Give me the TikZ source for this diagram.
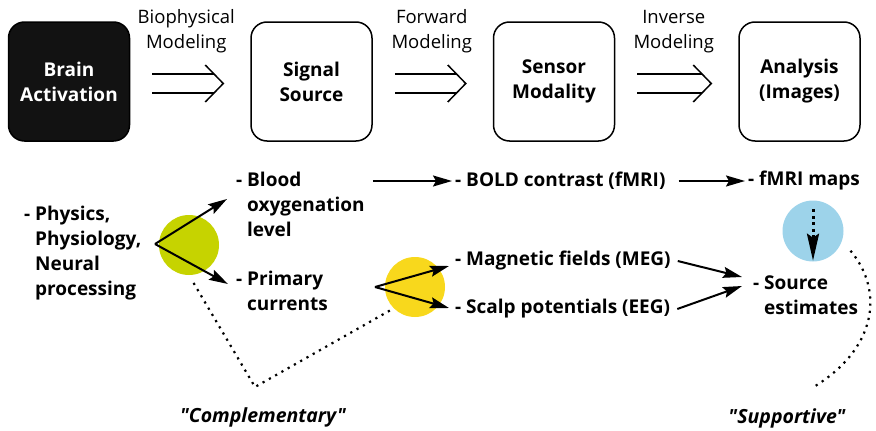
\documentclass[tikz,border=0pt]{standalone}
\usepackage{fontspec}
\setmainfont{Open Sans}
\newfontfamily\notefont{Open Sans}
\usetikzlibrary{positioning, arrows.meta, calc}

\definecolor{dotgreen}{HTML}{C6D300}
\definecolor{dotyellow}{HTML}{F8D81C}
\definecolor{dotblue}{HTML}{9DD3EA}

\begin{document}
\begin{tikzpicture}[x=1pt, y=-1pt, node distance=120pt,
    stage/.style={draw, line width=1.5pt, rounded corners=16pt, minimum width=121pt, minimum height=119pt, align=center, font=\fontsize{19}{25}\selectfont\bfseries},
    modlabel/.style={align=center, inner sep=0pt, font=\fontsize{18.5}{25}\selectfont},
    dbl/.style={double, double distance=17.6pt, line width=1.5pt, shorten <=22pt, shorten >=36pt},
    chev/.style={line width=1.5pt},
    item/.style={anchor=west, align=left, inner sep=0pt, font=\fontsize{19}{25}\selectfont\bfseries},
    arr/.style={line width=2pt, -{Stealth[length=19pt,width=11pt,inset=3pt]}},
    dotline/.style={line width=2.2pt, dash pattern=on 2.2pt off 5pt},
    dot/.style={circle, minimum size=60pt, inner sep=0pt},
    note/.style={inner sep=0pt, font=\notefont\fontsize{19.5}{22}\selectfont\bfseries\itshape}]
  \useasboundingbox (0,0) rectangle (876,431);

  % stages
  \node[stage, fill=black!93, text=white] (brain) at (69,81.5) {Brain\\Activation};
  \node[stage, right=of brain] (signal) {Signal\\Source};
  \node[stage, right=of signal] (sensor) {Sensor\\Modality};
  \node[stage, right=of sensor, xshift=3pt] (analysis) {Analysis\\(Images)};

  \node[modlabel] (biolab) at ($(brain.east)!.5!(signal.west)+(-4,-50)$) {Biophysical\\Modeling};
  \node[modlabel] (fwdlab) at ($(signal.east)!.5!(sensor.west)+(-1,-50)$) {Forward\\Modeling};
  \node[modlabel] (invlab) at ($(sensor.east)!.5!(analysis.west)+(-3,-50)$) {Inverse\\Modeling};

  \foreach \from/\to in {brain/signal, signal/sensor, sensor/analysis} {
    \draw[dbl] ([yshift=-2pt]\from.east) -- ([yshift=-2pt]\to.west);
    \draw[chev] ([xshift=-45pt,yshift=16.5pt]\to.west) -- ([xshift=-27pt,yshift=-2pt]\to.west) -- ([xshift=-45pt,yshift=-20.5pt]\to.west);
  }

  % coloured dots
  \node[dot, fill=dotgreen] (physdot) at (189,245) {};
  \node[dot, fill=dotyellow] (currdot) at (415,287) {};
  \node[dot, fill=dotblue, minimum size=61pt] (mapdot) at (813,231) {};

  % items
  \node[item] (physics) at (35,253) {\llap{- }Physics,\\Physiology,\\Neural\\processing};
  \node[item] (blood) at (247,204) {\llap{- }Blood\\oxygenation\\level};
  \node[item] (primary) at (247,291) {\llap{- }Primary\\currents};
  \node[item] (bold) at (455,181) {- BOLD contrast (fMRI)};
  \node[item] (maps) at (748,181) {- fMRI maps};
  \node[item] (meg) at (455,261) {- Magnetic fields (MEG)};
  \node[item] (eeg) at (455,309) {- Scalp potentials (EEG)};
  \node[item] (source) at (764,295) {\llap{- }Source\\estimates};

  \coordinate (gsplit) at (155,244);
  \coordinate (bloodin) at (227,199);
  \coordinate (primin) at (228,284);
  \coordinate (ysplit) at (375,287);
  \coordinate (megin) at (449,266);
  \coordinate (eegin) at (449,308);
  \coordinate (srctop) at (742,277);
  \coordinate (srcbot) at (742,286);
  \coordinate (compl) at (255,387);
  \coordinate (supp) at (812,388);

  \draw[arr] (gsplit) -- (bloodin);
  \draw[arr] (gsplit) -- (primin);
  \draw[arr] (ysplit) -- (megin);
  \draw[arr] (ysplit) -- (eegin);
  \draw[arr] (blood.east |- bold.west) ++(8,0) -- ([xshift=-3pt]bold.west);
  \draw[arr] ([xshift=13pt]bold.east) -- ([xshift=-3pt]maps.west);
  \draw[arr] ([xshift=7pt]meg.east) -- (srctop);
  \draw[arr] ([xshift=7pt]eeg.east) -- (srcbot);
  \draw[line width=3pt, dash pattern=on 3pt off 3.5pt, -{Stealth[length=27pt,width=12pt,inset=4pt]}] ([yshift=-9pt]mapdot.north) -- ([yshift=1pt]mapdot.south);

  % relations
  \draw[dotline, shorten <=9pt] (physdot.south) -- (compl) -- (currdot.south west);
  \draw[dotline] ($(mapdot.-40)+(14,0)$) .. controls (885,292) and (876,350) .. (supp);

  \node[note, below=20pt of compl, xshift=8pt] (complab) {"Complementary"};
  \node[note, below=20pt of supp, xshift=-25pt] (supplab) {"Supportive"};
\end{tikzpicture}
\end{document}
